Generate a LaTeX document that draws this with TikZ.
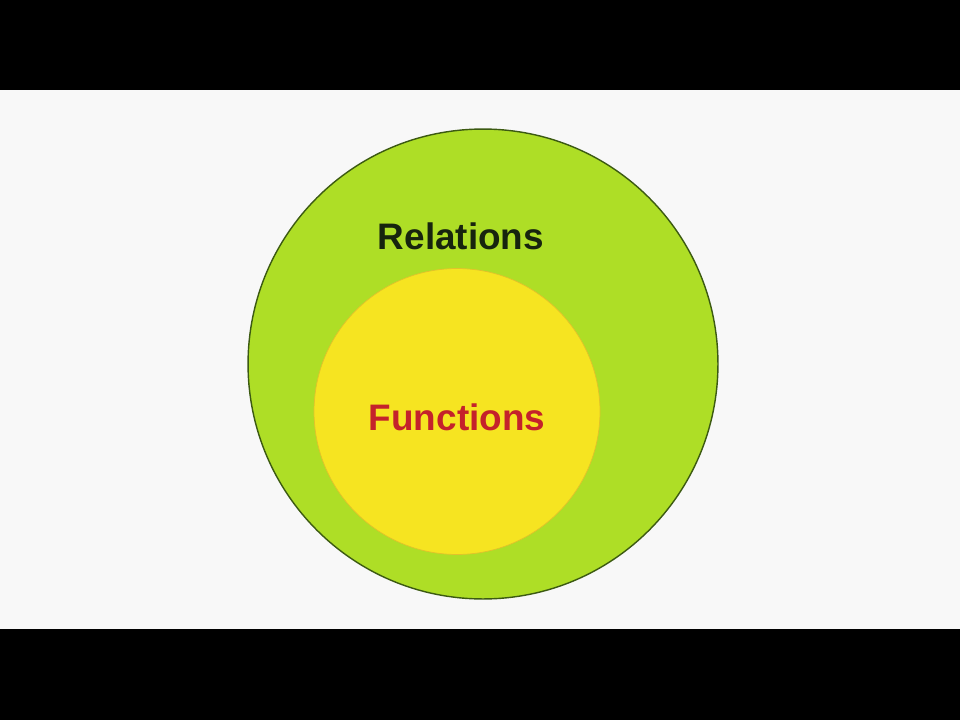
\documentclass[tikz,border=0pt]{standalone}
\usepackage{fontspec}
\setmainfont{Liberation Sans}
\usetikzlibrary{positioning}

\definecolor{relgreen}{HTML}{AEDE26}
\definecolor{reledge}{HTML}{3C5A12}
\definecolor{funyellow}{HTML}{F6E421}
\definecolor{funedge}{HTML}{E2C22A}
\definecolor{funred}{HTML}{C4222B}
\definecolor{reltext}{HTML}{17240E}
\definecolor{paper}{HTML}{F8F8F8}

\begin{document}
\begin{tikzpicture}[
x=0.02cm, y=-0.02cm,
setcircle/.style={circle, inner sep=0pt},
settext/.style={font=\fontsize{21}{25}\selectfont\bfseries}
]

% frame: black bars and paper
\fill[black] (0,0) rectangle (960,720);
\fill[paper] (0,90) rectangle (960,629);
\useasboundingbox (0,0) rectangle (960,720);

\node (relset) [setcircle, fill=relgreen, draw=reledge, line width=0.8pt, minimum size=9.4cm] at (483,364) {};
\node (funset) [setcircle, fill=funyellow, draw=funedge, line width=0.4pt, minimum size=5.72cm] at (457,411.5) {};

\node (rellabel) [settext, text=reltext] at (461,236) {Relations};
\node (funlabel) [settext, text=funred] at (457,417) {Functions};

\end{tikzpicture}
\end{document}
